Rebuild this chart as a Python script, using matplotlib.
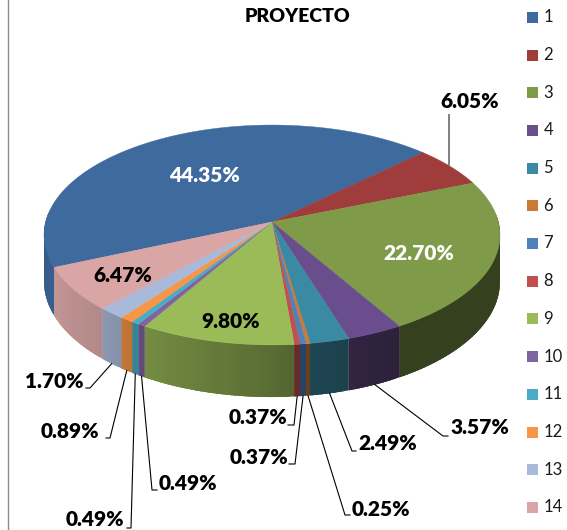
import numpy as np
import matplotlib
matplotlib.use('Agg')
import matplotlib.pyplot as plt
from matplotlib.patches import Rectangle

plt.rcParams['font.family'] = ['Lato', 'DejaVu Sans']

categories = ['1', '2', '3', '4', '5', '6', '7', '8', '9', '10', '11', '12', '13', '14']
values = [44.35, 6.05, 22.70, 3.57, 2.49, 0.25, 0.37, 0.37, 9.80, 0.49, 0.49, 0.89, 1.70, 6.47]
top_colors = ['#3e6a9e', '#9e3d3b', '#7f9a48', '#6a4d8c', '#3a8aa3', '#cb7a35', '#4f81bd', '#c0504d',
              '#9bbb59', '#8064a2', '#4bacc6', '#f79646', '#a8b9d9', '#d9a6a5']

# pie geometry, in pixels of the picture
CX, CY = 272, 222
RX, RY = 226.4, 108.4
K = 0.118
DEPTH = 46
START = 246.5

# how dark the side wall is, by angle (clockwise from the back)
shade_ang = [90, 150, 170, 180, 210, 225, 245, 270]
shade_val = [0.42, 0.42, 0.5, 0.58, 0.75, 0.83, 0.9, 0.85]


def project(theta):
    t = np.radians(theta)
    z = -np.cos(t)
    s = 1 / (1 - K * z)
    return CX + RX * np.sin(t) * s, CY + RY * z * s, s


def darker(color, f):
    return tuple(c * f for c in matplotlib.colors.to_rgb(color))


fig = plt.figure(figsize=(5.67, 5.3), dpi=100)
ax = fig.add_axes([0, 0, 1, 1])
ax.set_xlim(0, 567)
ax.set_ylim(530, 0)
ax.axis('off')

ax.plot([7.5, 7.5], [0, 530], color='#8c8c8c', lw=1)

edges = START + np.cumsum([0] + values) * 3.6
mids = (edges[:-1] + edges[1:]) / 2

# side wall, only the part facing us; each strip runs under the next so no seams show
for i, col in enumerate(top_colors):
    a0, a1 = edges[i], edges[i + 1]
    for lo, hi in [(a0, a1), (a0 - 360, a1 - 360)]:
        lo, hi = max(lo, 85), min(hi, 275)
        if hi <= lo:
            continue
        steps = np.arange(lo, hi, 1.0).tolist()
        for b0 in steps:
            b1 = min(b0 + 2.5, hi)
            x0, y0, s0 = project(b0)
            x1, y1, s1 = project(b1)
            f = np.interp(b0 + 0.5, shade_ang, shade_val)
            ax.fill([x0, x1, x1, x0], [y0, y1, y1 + DEPTH * s1, y0 + DEPTH * s0],
                     facecolor=darker(col, f), edgecolor='none', zorder=2)

# top of the pie
for i, col in enumerate(top_colors):
    th = np.linspace(edges[i], edges[i + 1], max(3, int(values[i] * 6)))
    x, y, _ = project(th)
    ax.fill(np.r_[CX, x], np.r_[CY, y], facecolor=col, edgecolor=col, lw=0.3, zorder=3)

# labels inside the pie and above it
label_size = 15
label_weight = 'heavy'
inner = {0: (205, 175, 'white'), 2: (419, 253, 'white'), 8: (231, 321, 'black'), 13: (123, 276, 'black'),
         1: (470, 102, 'black')}
for i, (x, y, c) in inner.items():
    ax.text(x, y, '%.2f%%' % values[i], color=c, fontsize=label_size, fontweight=label_weight,
            ha='center', va='center', zorder=5)
ax.plot([449, 449], [115, 165], color='#7f7f7f', lw=1.4, zorder=4)

# labels with leader lines: text centre, then the elbow of the line
outer = {
    12: (54, 381, [(86, 388), (90, 388)]),
    11: (70, 432, [(106, 438), (110, 438)]),
    9: (188, 483, [(157, 490), (152, 490)]),
    10: (95, 520, [(127, 528), (131, 528)]),
    7: (258, 417, [(288, 425), (294, 425)]),
    6: (259, 457, [(289, 464), (295, 464)]),
    3: (480, 428, [(448, 436), (443, 436)]),
    4: (388, 443, [(356, 451), (352, 451)]),
    5: (381, 509, [(350, 515), (345, 515)]),
}
for i, (x, y, elbow) in outer.items():
    ax.text(x, y, '%.2f%%' % values[i], color='black', fontsize=label_size, fontweight=label_weight,
            ha='center', va='center', zorder=5)
    rx, ry, rs = project(mids[i])
    xs = [p[0] for p in elbow] + [rx]
    ys = [p[1] for p in elbow] + [ry + DEPTH * rs]
    ax.plot(xs, ys, color='black', lw=0.8, zorder=4)

ax.text(297, 17, 'PROYECTO', color='black', fontsize=14, fontweight=label_weight, ha='center', va='center')

# legend
for i, name in enumerate(categories):
    yc = 17.3 + 37.7 * i
    ax.add_patch(Rectangle((527, yc - 5.5), 11, 11, facecolor=top_colors[i], edgecolor='none'))
    ax.text(543.5, yc, name, color='#1a1a1a', fontsize=12, ha='left', va='center')

fig.savefig('out.png', dpi=100)
